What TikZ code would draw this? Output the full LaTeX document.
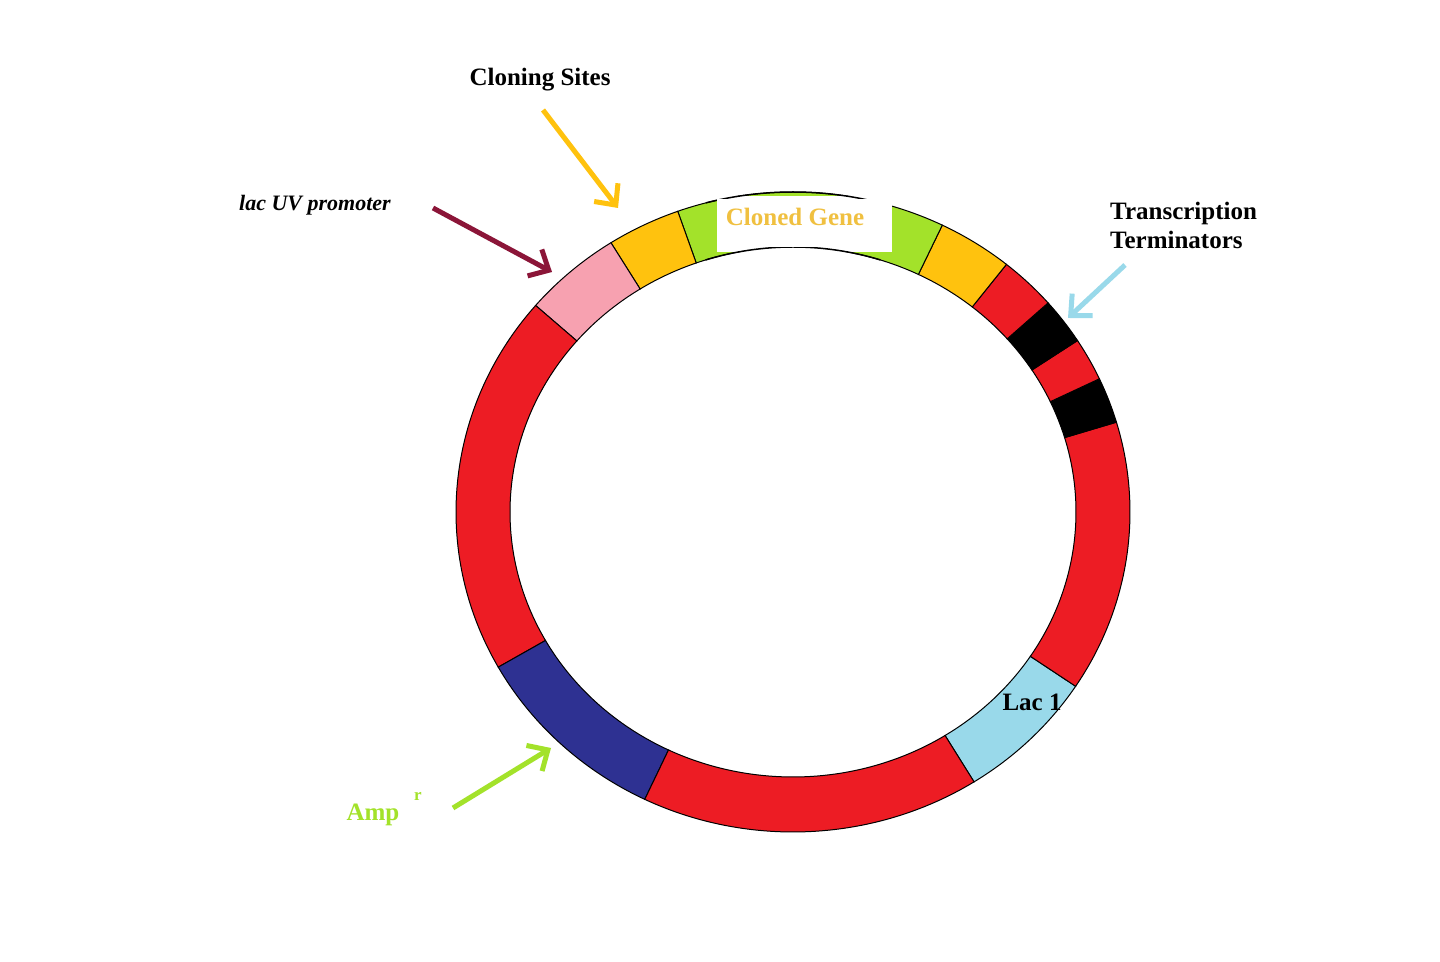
\documentclass[tikz,border=0pt]{standalone}
\usepackage{fontspec}
\setmainfont{Liberation Serif}
\usetikzlibrary{arrows.meta}
\definecolor{pred}{HTML}{ED1C24}
\definecolor{ppink}{HTML}{F7A1B0}
\definecolor{porange}{HTML}{FFC20E}
\definecolor{pgreen}{HTML}{A3E22A}
\definecolor{plblue}{HTML}{99D9EA}
\definecolor{pblue}{HTML}{2E3192}
\definecolor{pmaroon}{HTML}{8B1538}
\definecolor{ptxtor}{HTML}{F0C040}
\newcommand{\seg}[3]{\filldraw[fill=#1,draw=black,line width=1pt]
 ({793+337*cos(#2)},{449+320*sin(#2)}) arc[start angle=#2,end angle=#3,x radius=337,y radius=320]
 -- ({793+283*cos(#3)},{449+265*sin(#3)}) arc[start angle=#3,end angle=#2,x radius=283,y radius=265] -- cycle;}
\begin{document}
\begin{tikzpicture}[x=1pt,y=1pt,
  lbl/.style={font=\bfseries\fontsize{25}{29}\selectfont,inner sep=0pt},
  arr/.style={line width=5pt,-{Straight Barb[length=16pt,width=30pt,line width=5pt]}}]
\useasboundingbox[fill=white] (0,0) rectangle (1440,961);
\seg{plblue}{-57.5}{-33}
\seg{pred}{-33}{16.3}
\seg{black}{16.3}{24.6}
\seg{pred}{24.6}{32.4}
\seg{black}{32.4}{40.8}
\seg{pred}{40.8}{50.7}
\seg{porange}{50.7}{63.7}
\seg{pgreen}{63.7}{110}
\seg{porange}{110}{122.7}
\seg{ppink}{122.7}{139.8}
\seg{pred}{139.8}{209}
\seg{pblue}{209}{243.9}
\seg{pred}{243.9}{302.5}
\fill[white] (717,709) rectangle (892,765);
\draw[line width=1.5pt] ({793+337*cos(75)},{449+320*sin(75)}) arc[start angle=75,end angle=105,x radius=337,y radius=320];
\draw[line width=1.5pt] ({793+283*cos(72)},{449+265*sin(72)}) arc[start angle=72,end angle=108,x radius=283,y radius=265];
\fill[white] (717,714) rectangle (892,762);
\node[lbl,text=ptxtor] (cg) at (795,744) {Cloned Gene};
\node[lbl] (cs) at (540,881) {Cloning Sites};
\node[lbl,font=\bfseries\itshape\fontsize{22}{26}\selectfont] (lac) at (315,756) {lac UV promoter};
\node[lbl,align=left,anchor=north west] (tt) at (1110,759) {Transcription\\Terminators};
\node[lbl] (l1) at (1032,259) {Lac 1};
\node[lbl,text=pgreen] (amp) at (373,146) {Amp};
\node[lbl,text=pgreen,font=\bfseries\fontsize{17}{20}\selectfont] (ampr) at (418,165) {r};
\coordinate (a1s) at (543,851); \coordinate (a1e) at (618,753);
\coordinate (a2s) at (433,753); \coordinate (a2e) at (552,689);
\coordinate (a3s) at (1125,696); \coordinate (a3e) at (1068,643);
\coordinate (a4s) at (453,153); \coordinate (a4e) at (551,213);
\draw[arr,porange] (a1s) -- (a1e);
\draw[arr,pmaroon] (a2s) -- (a2e);
\draw[arr,plblue] (a3s) -- (a3e);
\draw[arr,pgreen] (a4s) -- (a4e);
\end{tikzpicture}
\end{document}
